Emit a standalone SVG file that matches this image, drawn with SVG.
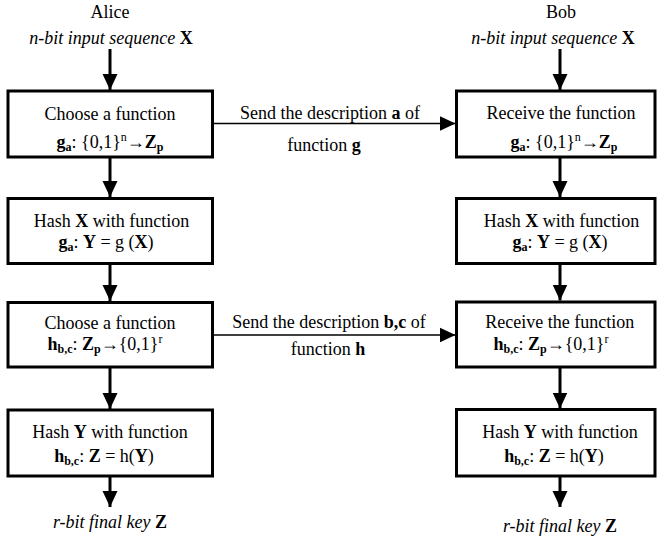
<svg xmlns="http://www.w3.org/2000/svg" width="658" height="537" viewBox="0 0 658 537">
<style>
text{font-family:"Liberation Serif","Times New Roman",serif;font-size:18px;fill:#000;text-anchor:middle}
.it{font-style:italic}
.b{font-weight:bold}
.s{font-size:12px}
.box{fill:#fff;stroke:#000;stroke-width:3}
.v{stroke:#000;stroke-width:3;fill:none}
.h{stroke:#000;stroke-width:1.6;fill:none}
</style>
<defs>
<marker id="ah" markerUnits="userSpaceOnUse" markerWidth="17" markerHeight="16" refX="16" refY="8" orient="auto" viewBox="0 0 17 16">
<path d="M0,0.5 L16,8 L0,15.5 z" fill="#000"/>
</marker>
</defs>
<g id="labels-top">
<text x="110" y="18">Alice</text>
<text x="111" y="44" class="it">n-bit input sequence <tspan class="b" font-style="normal">X</tspan></text>
<text x="561" y="18">Bob</text>
<text x="553" y="43.5" class="it">n-bit input sequence <tspan class="b" font-style="normal">X</tspan></text>
</g>
<g id="connectors">
<line class="v" x1="110" y1="49" x2="110" y2="90" marker-end="url(#ah)"/>
<line class="v" x1="110" y1="157" x2="110" y2="197" marker-end="url(#ah)"/>
<line class="v" x1="110" y1="263" x2="110" y2="301" marker-end="url(#ah)"/>
<line class="v" x1="110" y1="367" x2="110" y2="409" marker-end="url(#ah)"/>
<line class="v" x1="110" y1="476" x2="110" y2="507" marker-end="url(#ah)"/>
<line class="v" x1="560" y1="49" x2="560" y2="90" marker-end="url(#ah)"/>
<line class="v" x1="560" y1="157" x2="560" y2="197" marker-end="url(#ah)"/>
<line class="v" x1="560" y1="263" x2="560" y2="300.5" marker-end="url(#ah)"/>
<line class="v" x1="560" y1="367" x2="560" y2="408.5" marker-end="url(#ah)"/>
<line class="v" x1="560" y1="476" x2="560" y2="507" marker-end="url(#ah)"/>
<line class="h" x1="212" y1="123.5" x2="455.5" y2="123.5" marker-end="url(#ah)"/>
<line class="h" x1="212" y1="335" x2="455.5" y2="335" marker-end="url(#ah)"/>
<text x="330" y="119">Send the description <tspan class="b">a</tspan> of</text>
<text x="324" y="150.5">function <tspan class="b">g</tspan></text>
<text x="329" y="328.3">Send the description <tspan class="b">b,c</tspan> of</text>
<text x="328" y="355">function <tspan class="b">h</tspan></text>
</g>
<g id="alice-choose-g">
<rect class="box" x="8" y="91" width="204.5" height="66"/>
<text x="110" y="119.5">Choose a function</text>
<text x="110" y="147.7"><tspan class="b">g</tspan><tspan class="b s" dy="3">a</tspan><tspan dy="-3">: {0,1}</tspan><tspan class="s" dy="-7">n</tspan><tspan dy="7">→</tspan><tspan class="b">Z</tspan><tspan class="b s" dy="3">p</tspan></text>
</g>
<g id="bob-receive-g">
<rect class="box" x="456.5" y="91" width="198.5" height="66"/>
<text x="561" y="119.3">Receive the function</text>
<text x="564" y="148"><tspan class="b">g</tspan><tspan class="b s" dy="3">a</tspan><tspan dy="-3">: {0,1}</tspan><tspan class="s" dy="-7">n</tspan><tspan dy="7">→</tspan><tspan class="b">Z</tspan><tspan class="b s" dy="3">p</tspan></text>
</g>
<g id="alice-hash-x">
<rect class="box" x="8" y="198.5" width="204.5" height="65"/>
<text x="111.5" y="226.7">Hash <tspan class="b">X</tspan> with function</text>
<text x="106" y="248"><tspan class="b">g</tspan><tspan class="b s" dy="3">a</tspan><tspan dy="-3">: </tspan><tspan class="b">Y</tspan> = g (<tspan class="b">X</tspan>)</text>
</g>
<g id="bob-hash-x">
<rect class="box" x="456.5" y="198.5" width="198.5" height="65"/>
<text x="561.5" y="226.7">Hash <tspan class="b">X</tspan> with function</text>
<text x="560" y="248.3"><tspan class="b">g</tspan><tspan class="b s" dy="3">a</tspan><tspan dy="-3">: </tspan><tspan class="b">Y</tspan> = g (<tspan class="b">X</tspan>)</text>
</g>
<g id="alice-choose-h">
<rect class="box" x="8" y="302.5" width="204.5" height="64.5"/>
<text x="110" y="329.3">Choose a function</text>
<text x="105" y="350"><tspan class="b">h</tspan><tspan class="b s" dy="3">b,c</tspan><tspan dy="-3">: </tspan><tspan class="b">Z</tspan><tspan class="b s" dy="3">p</tspan><tspan dy="-3">→{0,1}</tspan><tspan class="s" dy="-7">r</tspan></text>
</g>
<g id="bob-receive-h">
<rect class="box" x="456.5" y="302" width="198.5" height="65"/>
<text x="559.7" y="328.3">Receive the function</text>
<text x="551" y="350"><tspan class="b">h</tspan><tspan class="b s" dy="3">b,c</tspan><tspan dy="-3">: </tspan><tspan class="b">Z</tspan><tspan class="b s" dy="3">p</tspan><tspan dy="-3">→{0,1}</tspan><tspan class="s" dy="-7">r</tspan></text>
</g>
<g id="alice-hash-y">
<rect class="box" x="8" y="410" width="204.5" height="66"/>
<text x="110" y="438">Hash <tspan class="b">Y</tspan> with function</text>
<text x="104" y="461.7"><tspan class="b">h</tspan><tspan class="b s" dy="3">b,c</tspan><tspan dy="-3">: </tspan><tspan class="b">Z</tspan> = h(<tspan class="b">Y</tspan>)</text>
</g>
<g id="bob-hash-y">
<rect class="box" x="456.5" y="409.5" width="198.5" height="66.5"/>
<text x="560" y="438.3">Hash <tspan class="b">Y</tspan> with function</text>
<text x="554" y="461.7"><tspan class="b">h</tspan><tspan class="b s" dy="3">b,c</tspan><tspan dy="-3">: </tspan><tspan class="b">Z</tspan> = h(<tspan class="b">Y</tspan>)</text>
</g>
<g id="labels-bottom">
<text x="110" y="528" class="it">r-bit final key <tspan class="b" font-style="normal">Z</tspan></text>
<text x="560" y="531.5" class="it">r-bit final key <tspan class="b" font-style="normal">Z</tspan></text>
</g>
</svg>
